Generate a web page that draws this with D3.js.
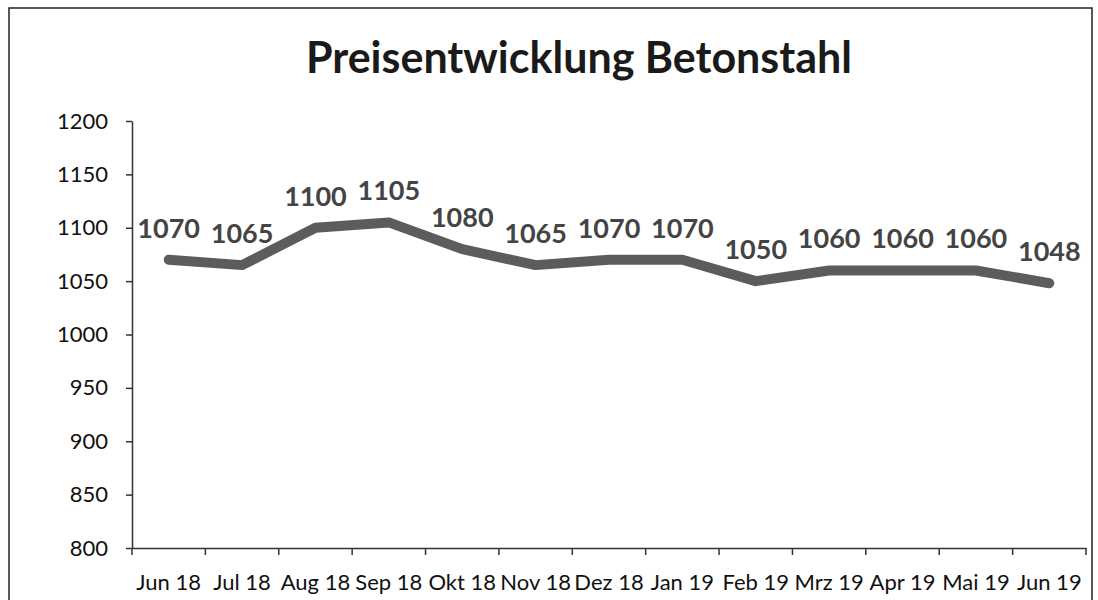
<!DOCTYPE html>
<html>
<head>
<meta charset="utf-8">
<script src="https://cdn.jsdelivr.net/npm/d3@7"></script>
<style>
  html, body { margin: 0; padding: 0; background: #fff; }
  svg { display: block; }
</style>
</head>
<body>
<svg id="chart" width="1098" height="600"></svg>
<script>
// Preisentwicklung Betonstahl — line chart with value labels
var months = ['Jun 18', 'Jul 18', 'Aug 18', 'Sep 18', 'Okt 18', 'Nov 18', 'Dez 18', 'Jan 19', 'Feb 19', 'Mrz 19', 'Apr 19', 'Mai 19', 'Jun 19'];
var prices = [1070, 1065, 1100, 1105, 1080, 1065, 1070, 1070, 1050, 1060, 1060, 1060, 1048];
var yTicks = [800, 850, 900, 950, 1000, 1050, 1100, 1150, 1200];
var title = 'Preisentwicklung Betonstahl';

var FONT = 'Lato, "Open Sans", sans-serif';
var svg = d3.select('#chart');
var L = 132, R = 1086, T = 121, B = 548;

// outer frame of the scanned chart
svg.append('path').attr('d', 'M9,600 V8 H1092 V600')
  .attr('fill', 'none').attr('stroke', '#222').attr('stroke-width', 1.5);

svg.append('text').attr('x', 579).attr('y', 73).attr('text-anchor', 'middle')
  .attr('font-family', FONT).attr('font-weight', 700).attr('font-size', 43).attr('fill', '#1a1a1a')
  .text(title);

var x = d3.scaleBand().domain(months).range([L, R]).paddingInner(0).paddingOuter(0);
var y = d3.scaleLinear().domain([800, 1200]).range([B, T]);

// y axis
var gy = svg.append('g').attr('transform', 'translate(' + L + ',0)')
  .call(d3.axisLeft(y).tickValues(yTicks).tickFormat(d3.format('d')).tickSize(6).tickPadding(18).tickSizeOuter(0));
gy.select('.domain').attr('stroke', '#333').attr('stroke-width', 1.5);
gy.selectAll('.tick line').attr('stroke', '#333').attr('stroke-width', 1.5);
gy.selectAll('.tick text').attr('font-family', FONT).attr('font-size', 22).attr('fill', '#111');

// x axis: ticks at band edges
var gx = svg.append('g').attr('transform', 'translate(0,' + B + ')')
  .call(d3.axisBottom(x).tickSize(0).tickPadding(26));
gx.select('.domain').attr('stroke', '#333').attr('stroke-width', 1.5);
gx.selectAll('.tick text').attr('font-family', FONT).attr('font-size', 22).attr('fill', '#111');
var edges = months.map(function (m) { return x(m); }).concat([R]);
gx.selectAll('line.edge').data(edges).enter().append('line').attr('class', 'edge')
  .attr('x1', function (d) { return d; }).attr('x2', function (d) { return d; })
  .attr('y1', 0).attr('y2', 7).attr('stroke', '#333').attr('stroke-width', 1.5);

// series line
var cx = function (d, i) { return x(months[i]) + x.bandwidth() / 2; };
var line = d3.line().x(cx).y(function (d) { return y(d); });
svg.append('path').datum(prices).attr('d', line)
  .attr('fill', 'none').attr('stroke', '#5c5c5c').attr('stroke-width', 10)
  .attr('stroke-linecap', 'round').attr('stroke-linejoin', 'round');

// value labels
svg.selectAll('text.val').data(prices).enter().append('text').attr('class', 'val')
  .attr('x', cx).attr('y', function (d) { return y(d) - 22; })
  .attr('text-anchor', 'middle').attr('font-family', FONT).attr('font-weight', 700)
  .attr('font-size', 27).attr('fill', '#444').text(function (d) { return d; });
</script>
</body>
</html>
